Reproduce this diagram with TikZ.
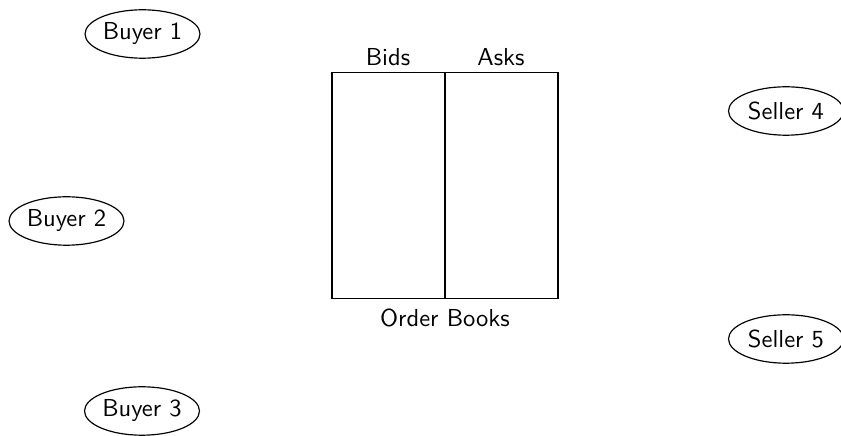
\documentclass[tikz,border=0pt]{standalone}
\usetikzlibrary{shapes.geometric}
\begin{document}
\begin{tikzpicture}[x=0.4235pt,y=-0.4235pt,font=\sffamily\fontsize{10.4}{12.5}\selectfont,line width=0.5pt,
  agent/.style={ellipse,draw,inner sep=0pt,minimum width=48.7pt,minimum height=20.5pt},
  column/.style={draw,inner sep=0pt,minimum width=47.85pt,minimum height=95.7pt}]
\useasboundingbox (0,0) rectangle (841,436);
\clip (0,0) rectangle (841,436);
\node[agent] (b1) at (142.5,34) {Buyer 1};
\node[agent] (b2) at (66.5,221) {Buyer 2};
\node[agent] (b3) at (142,411) {Buyer 3};
\node[agent] (s4) at (786,111) {Seller 4};
\node[agent] (s5) at (786,339) {Seller 5};
\node[column] (bids) at (388.5,185.5) {};
\node[column] (asks) at (501.5,185.5) {};
\node (bidsl) at (388,57) {Bids};
\node (asksl) at (501,57) {Asks};
\node (ob) at (445,318) {Order Books};
\end{tikzpicture}
\end{document}
